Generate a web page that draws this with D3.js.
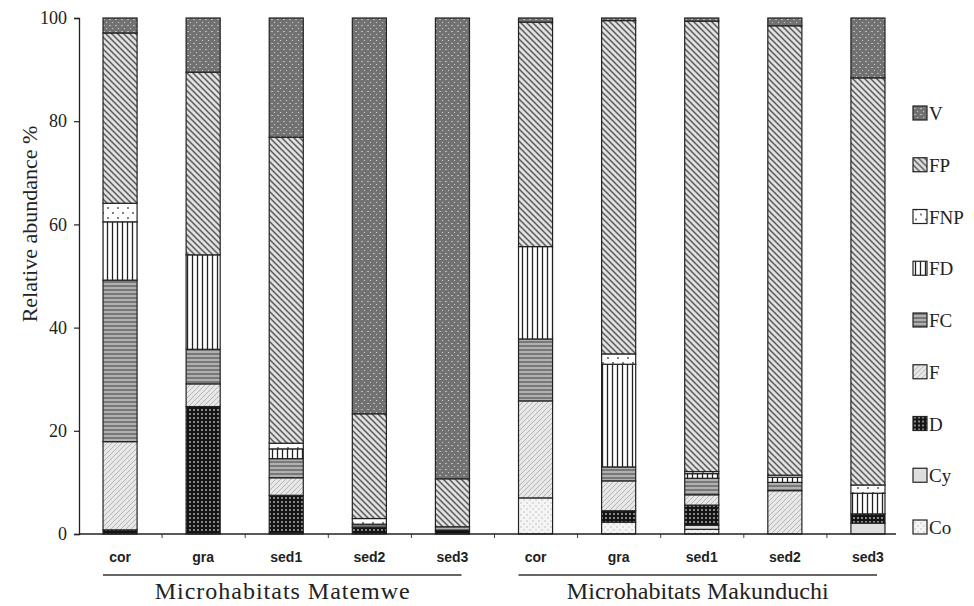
<!DOCTYPE html>
<html>
<head>
<meta charset="utf-8">
<script src="https://cdn.jsdelivr.net/npm/d3@7"></script>
<style>
  body { margin: 0; background: #fff; }
  svg { display: block; }
</style>
</head>
<body>
<div id="chart"></div>
<script>

// Sites (5 per locality) and the two localities
const sites = ['cor', 'gra', 'sed1', 'sed2', 'sed3', 'cor', 'gra', 'sed1', 'sed2', 'sed3']
const localities = ['Microhabitats Matemwe', 'Microhabitats Makunduchi']

// Stack order, bottom to top
const groups = ['Co', 'Cy', 'D', 'F', 'FC', 'FD', 'FNP', 'FP', 'V']

// Relative abundance % per site (Matemwe x5, then Makunduchi x5)
const Co  = [0,    0,    0,    0,    0,    7.0,  2.3,  0.9,  0,    0]
const Cy  = [0,    0,    0.2,  0,    0,    0,    0,    0.8,  0,    2.1]
const D   = [0.8,  24.7, 7.3,  1.3,  0.7,  0,    2.2,  3.9,  0,    1.8]
const F   = [17.1, 4.4,  3.4,  0,    0,    18.8, 5.8,  2.0,  8.4,  0]
const FC  = [31.3, 6.7,  3.7,  0.6,  0.7,  12.0, 2.7,  3.2,  1.6,  0]
const FD  = [11.3, 18.3, 1.9,  0,    0,    17.9, 19.9, 0.9,  1.0,  4.0]
const FNP = [3.6,  0,    1.1,  1.1,  0,    0,    2.0,  0.4,  0.4,  1.6]
const FP  = [33.0, 35.4, 59.3, 20.3, 9.3,  43.5, 64.6, 87.3, 87.1, 78.9]
const V   = [2.9,  10.5, 23.1, 76.7, 89.3, 0.8,  0.5,  0.6,  1.5,  11.6]

const yTicks = [0, 20, 40, 60, 80, 100]

const series = {Co, Cy, D, F, FC, FD, FNP, FP, V}

// table for d3.stack
const table = sites.map((s, i) => {
    const row = {idx: i, site: s}
    groups.forEach(g => row[g] = series[g][i])
    return row
})

const width = 974, height = 606
const serif = '"Liberation Serif", "DejaVu Serif", serif'
const sans = '"Liberation Sans", Arial, sans-serif'

var svg = d3.select('#chart')
    .append('svg')
    .attr('width', width)
    .attr('height', height)

// Fill patterns, one per group
const defs = svg.append('defs')

function pattern(id, w, h, bg) {
    const p = defs.append('pattern')
        .attr('id', id)
        .attr('patternUnits', 'userSpaceOnUse')
        .attr('width', w)
        .attr('height', h)
    p.append('rect').attr('width', w).attr('height', h).attr('fill', bg)
    return p
}

// V: dark grey with light speckles
var p = pattern('p-V', 6, 6, '#727272')
p.append('rect').attr('x', 1).attr('y', 1).attr('width', 2).attr('height', 1).attr('fill', '#b8b8b8')
p.append('rect').attr('x', 4).attr('y', 4).attr('width', 1).attr('height', 1).attr('fill', '#d0d0d0')

// FP: back diagonal stripes
p = pattern('p-FP', 6, 6, '#e0e0e0')
p.append('path').attr('d', 'M0,0L6,6M-3,3L3,9M3,-3L9,3')
    .attr('stroke', '#5a5a5a').attr('stroke-width', 1.5)

// FNP: white with sparse dots
p = pattern('p-FNP', 10, 10, '#fff')
p.append('circle').attr('cx', 3).attr('cy', 3).attr('r', 0.9).attr('fill', '#444')
p.append('circle').attr('cx', 8).attr('cy', 8).attr('r', 0.9).attr('fill', '#444')

// FD: vertical lines
p = pattern('p-FD', 5, 5, '#fff')
p.append('path').attr('d', 'M2.5,0V5').attr('stroke', '#222').attr('stroke-width', 1.3)

// FC: horizontal lines
p = pattern('p-FC', 4, 4, '#b0b0b0')
p.append('path').attr('d', 'M0,2H4').attr('stroke', '#404040').attr('stroke-width', 1)

// F: light forward diagonal
p = pattern('p-F', 5, 5, '#e8e8e8')
p.append('path').attr('d', 'M0,5L5,0M-2.5,2.5L2.5,-2.5M2.5,7.5L7.5,2.5')
    .attr('stroke', '#b4b4b4').attr('stroke-width', 1)

// D: black with light dots
p = pattern('p-D', 4, 4, '#141414')
p.append('circle').attr('cx', 2).attr('cy', 2).attr('r', 0.9).attr('fill', '#bdbdbd')

// Cy: plain light grey
pattern('p-Cy', 4, 4, '#dedede')

// Co: near white with grey dots
p = pattern('p-Co', 6, 6, '#f5f5f5')
p.append('circle').attr('cx', 2).attr('cy', 2).attr('r', 0.7).attr('fill', '#b0b0b0')
p.append('circle').attr('cx', 5).attr('cy', 5).attr('r', 0.7).attr('fill', '#b0b0b0')

// Scales
const x = d3.scaleBand()
    .domain(d3.range(sites.length))
    .range([78.5, 909.5])
    .paddingInner(0.59)
    .paddingOuter(0.295)

const xPos = d3.scaleLinear().domain([0, sites.length]).range([78.5, 909.5])

const y = d3.scaleLinear()
    .domain([0, 100])
    .range([534, 18])

// Stacked bars
const stacked = d3.stack().keys(groups)(table)

svg.append('g')
    .selectAll('g')
    .data(stacked)
    .enter()
    .append('g')
    .attr('fill', d => 'url(#p-' + d.key + ')')
    .selectAll('rect')
    .data(d => d.filter(s => s[1] - s[0] > 0))
    .enter()
    .append('rect')
    .attr('x', d => x(d.data.idx))
    .attr('y', d => y(d[1]))
    .attr('width', x.bandwidth())
    .attr('height', d => y(d[0]) - y(d[1]))
    .attr('stroke', '#222')
    .attr('stroke-width', 1.2)

// Y axis
const yAxis = svg.append('g')
    .attr('transform', 'translate(79,0)')
    .call(d3.axisLeft(y).tickValues(yTicks).tickSize(5).tickPadding(7))
yAxis.select('.domain').attr('stroke', '#222').attr('stroke-width', 1.3)
yAxis.selectAll('.tick line').attr('stroke', '#222').attr('stroke-width', 1.2)
yAxis.selectAll('text')
    .attr('font-family', serif)
    .attr('font-size', 18)
    .attr('fill', '#222')

// X axis: ticks between sites
const xAxis = svg.append('g')
    .attr('transform', 'translate(0,534)')
    .call(d3.axisBottom(xPos).tickValues(d3.range(1, sites.length)).tickSize(4).tickFormat(''))
xAxis.select('.domain').remove()
xAxis.selectAll('.tick line').attr('stroke', '#444').attr('stroke-width', 1)
svg.append('line')
    .attr('x1', 79).attr('x2', 896)
    .attr('y1', 534).attr('y2', 534)
    .attr('stroke', '#222').attr('stroke-width', 1.3)

// Site labels
svg.append('g')
    .selectAll('text')
    .data(sites)
    .enter()
    .append('text')
    .attr('x', (d, i) => x(i) + x.bandwidth() / 2)
    .attr('y', 562)
    .attr('text-anchor', 'middle')
    .attr('font-family', sans)
    .attr('font-weight', 'bold')
    .attr('font-size', 14)
    .attr('fill', '#222')
    .text(d => d)

// Locality brackets and names
localities.forEach((name, k) => {
    const x0 = x(k * 5), x1 = x(k * 5 + 4) + x.bandwidth()
    svg.append('line')
        .attr('x1', x0).attr('x2', x1 - 8)
        .attr('y1', 575).attr('y2', 575)
        .attr('stroke', '#333').attr('stroke-width', 1.3)
    svg.append('text')
        .attr('x', (x0 + x1) / 2 - 4)
        .attr('y', 599)
        .attr('text-anchor', 'middle')
        .attr('font-family', serif)
        .attr('font-size', 24)
        .attr('textLength', k === 0 ? 255 : 262)
        .attr('lengthAdjust', 'spacing')
        .attr('fill', '#222')
        .text(name)
})

// Y title
svg.append('text')
    .attr('transform', 'translate(37,224) rotate(-90)')
    .attr('text-anchor', 'middle')
    .attr('font-family', serif)
    .attr('font-size', 22)
    .attr('fill', '#222')
    .text('Relative abundance %')

// Legend, V at top
const legend = svg.append('g')
    .selectAll('g')
    .data(groups.slice().reverse())
    .enter()
    .append('g')
    .attr('transform', (d, i) => 'translate(913,' + (113 + i * 51.75) + ')')

legend.append('rect')
    .attr('x', 0).attr('y', -7)
    .attr('width', 14).attr('height', 14)
    .attr('fill', d => 'url(#p-' + d + ')')
    .attr('stroke', '#222')
    .attr('stroke-width', 1.2)

legend.append('text')
    .attr('x', 16)
    .attr('y', 7)
    .attr('font-family', serif)
    .attr('font-size', 19)
    .attr('fill', '#222')
    .text(d => d)

</script>
</body>
</html>
